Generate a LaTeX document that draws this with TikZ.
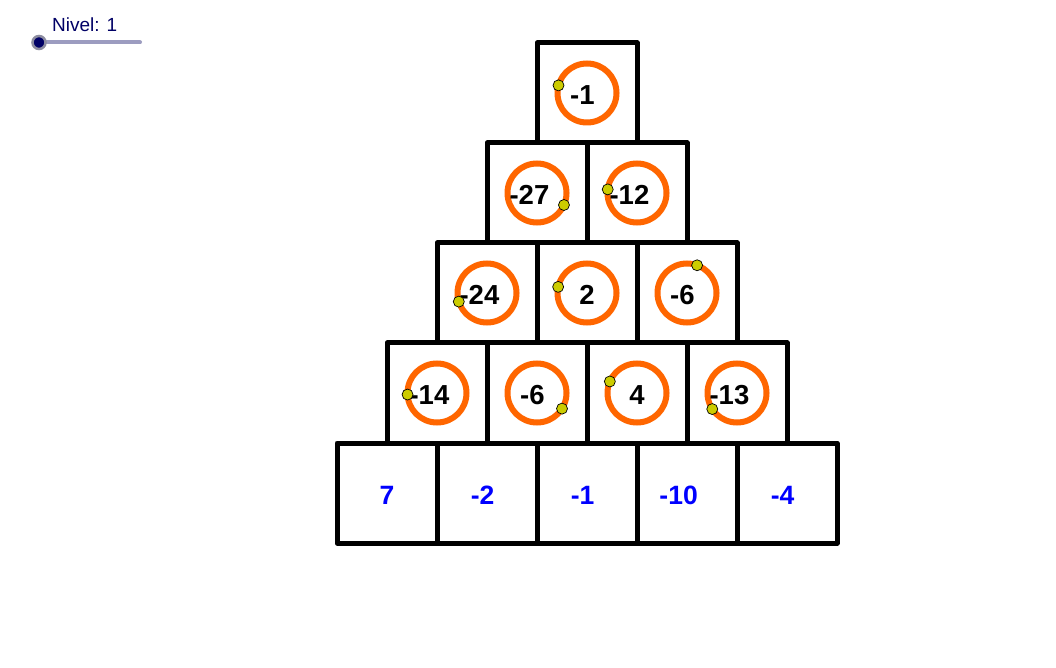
\documentclass[tikz,border=0pt]{standalone}
\usepackage{fontspec}
\setmainfont{Liberation Sans}
\definecolor{ringcol}{HTML}{FF6600}
\definecolor{dotcol}{HTML}{CCCC00}
\definecolor{navy}{HTML}{000066}
\definecolor{trackcol}{HTML}{9C9CC0}
\definecolor{knobring}{HTML}{8C8CA0}
\definecolor{bluenum}{HTML}{0000FF}
\begin{document}
\begin{tikzpicture}[x=1pt,y=1pt,
  cellbox/.style={draw=black,line width=5pt,minimum size=100pt,inner sep=0pt,outer sep=0pt,line join=round},
  ringc/.style={circle,draw=ringcol,line width=6pt,minimum size=59pt,inner sep=0pt,outer sep=0pt},
  numtxt/.style={anchor=base,inner sep=0pt,font=\fontsize{27.5}{27}\selectfont\bfseries},
  bluetxt/.style={anchor=base,inner sep=0pt,text=bluenum,font=\fontsize{26.5}{27}\selectfont\bfseries},
  movept/.style={circle,fill=dotcol,draw=black,line width=0.7pt,minimum size=11pt,inner sep=0pt},
  ]
\fill[white] (0,0) rectangle (1056,667);
% cells
\foreach \r in {1,...,5}{
  \foreach \i in {1,...,\r}{
    \node[cellbox] (c\r\i) at ({587-50*(\r-1)+100*(\i-1)},{574-100*(\r-1)}) {};
  }
}
% rings
\foreach \r in {1,...,4}{
  \foreach \i in {1,...,\r}{
    \node[ringc] (r\r\i) at (c\r\i.center) {};
  }
}
% black numbers
\node[numtxt] (t11) at ([yshift=-12pt]c11.center) {\llap{-}1};
\node[numtxt] (t21) at ([xshift=-3pt,yshift=-12pt]c21.center) {\llap{-}27};
\node[numtxt] (t22) at ([xshift=-3pt,yshift=-12pt]c22.center) {\llap{-}12};
\node[numtxt] (t31) at ([xshift=-3pt,yshift=-12pt]c31.center) {\llap{-}24};
\node[numtxt] (t32) at ([yshift=-12pt]c32.center) {2};
\node[numtxt] (t33) at ([yshift=-12pt]c33.center) {\llap{-}6};
\node[numtxt] (t41) at ([xshift=-3pt,yshift=-12pt]c41.center) {\llap{-}14};
\node[numtxt] (t42) at ([yshift=-12pt]c42.center) {\llap{-}6};
\node[numtxt] (t43) at ([yshift=-12pt]c43.center) {4};
\node[numtxt] (t44) at ([xshift=-3pt,yshift=-12pt]c44.center) {\llap{-}13};
% blue numbers
\node[bluetxt] (t51) at ([yshift=-11.5pt]c51.center) {7};
\node[bluetxt] (t52) at ([yshift=-11.5pt]c52.center) {\llap{-}2};
\node[bluetxt] (t53) at ([yshift=-11.5pt]c53.center) {\llap{-}1};
\node[bluetxt] (t54) at ([xshift=-4pt,yshift=-11.5pt]c54.center) {\llap{-}10};
\node[bluetxt] (t55) at ([yshift=-11.5pt]c55.center) {\llap{-}4};
% movable points
\node[movept] (p11) at (r11.165) {};
\node[movept] (p21) at (r21.-24) {};
\node[movept] (p22) at (r22.173) {};
\node[movept] (p31) at (r31.197) {};
\node[movept] (p32) at (r32.168) {};
\node[movept] (p33) at (r33.70) {};
\node[movept] (p41) at (r41.183) {};
\node[movept] (p42) at (r42.-32) {};
\node[movept] (p43) at (r43.157) {};
\node[movept] (p44) at (r44.213) {};
% slider
\node[anchor=base west,inner sep=0pt,text=navy,font=\fontsize{19}{19}\selectfont] (lbl) at (52,635) {Nivel: 1};
\coordinate (knobpos) at (39,624.5);
\coordinate (trackend) at (140,624.5);
\draw[trackcol,line width=4pt,line cap=round] (knobpos) -- (trackend);
\node[circle,fill=navy,draw=knobring,line width=2.5pt,minimum size=13pt,inner sep=0pt] (knob) at (knobpos) {};
\end{tikzpicture}
\end{document}
